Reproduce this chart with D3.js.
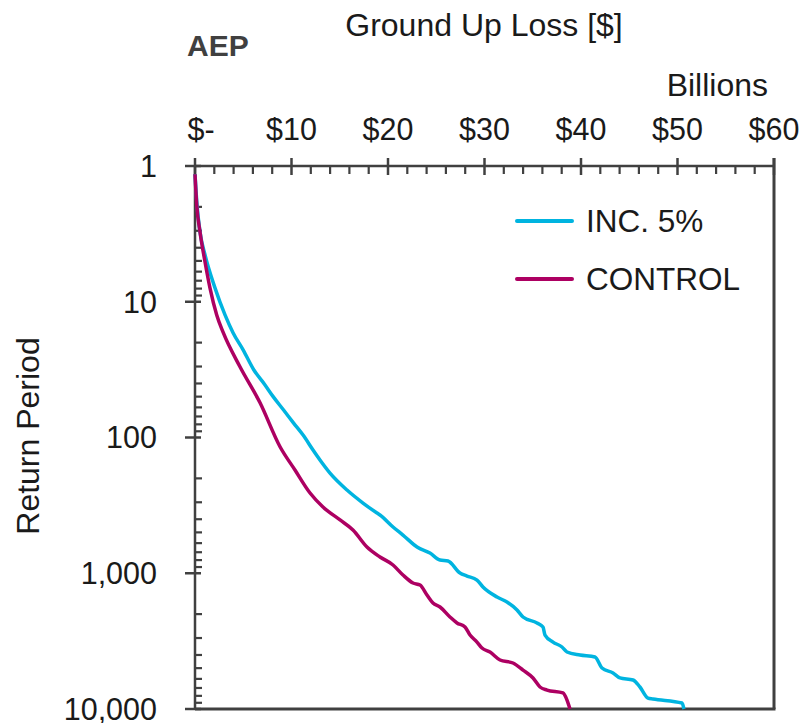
<!DOCTYPE html>
<html><head><meta charset="utf-8">
<script src="https://cdn.jsdelivr.net/npm/d3@7"></script>
<style>
html,body{margin:0;padding:0;background:#fff;}
svg text{font-family:"Liberation Sans",Arial,sans-serif;}
</style></head>
<body>
<svg id="chart" width="804" height="723"></svg>
<script>
// ---- data (loss in $ billions, return period in years) ----
const seriesNames = ["INC. 5%", "CONTROL"];
const seriesColors = ["#00B4E0", "#AD0062"];
const lossInc = [0, 0.21, 0.52, 1.04, 2.07, 3.11, 3.94, 5.0, 6.1, 7.2, 8.1, 9.2, 10.2, 11.2, 12.23, 12.95, 13.99, 15.75, 17.41, 18.86, 19.17, 20.52, 21.55, 23.01, 24.35, 25.39, 26.22, 27.46, 28.19, 29.22, 29.84, 31.30, 32.33, 33.37, 33.99, 35.44, 36.06, 36.27, 37.10, 38.03, 38.55, 39.90, 41.45, 42.18, 43.32, 44.04, 45.39, 46.11, 46.94, 47.46, 50.47, 50.67];
const rpInc   = [1.15, 1.94, 3.06, 4.52, 7.9, 12.5, 16.9, 22.7, 31.8, 40.5, 50, 63, 78, 96, 123.7, 146.5, 183, 243.8, 304, 359.8, 372, 456, 523, 641, 710, 798, 812, 996, 1048, 1122, 1263, 1496, 1629, 1866, 2100, 2323, 2489, 2851, 3212, 3494, 3804, 4000, 4140, 4990, 5430, 5905, 6110, 6885, 8300, 8435, 9040, 10000];
const lossCtrl = [0, 0.18, 0.52, 1.04, 1.55, 2.25, 2.93, 4.66, 6.74, 8.81, 10.36, 11.92, 13.26, 15.03, 16.37, 17.82, 19.17, 20.52, 21.55, 22.59, 23.32, 24.04, 24.66, 25.39, 26.42, 27.15, 27.98, 28.50, 29.22, 29.74, 30.57, 31.61, 32.95, 33.99, 35.03, 35.75, 36.48, 38.13, 38.55, 38.86];
const rpCtrl   = [1.15, 1.94, 3.06, 5.09, 7.9, 12.5, 16.9, 30.1, 55.5, 117, 173.5, 256.5, 325, 405, 480, 641, 759, 869, 1030, 1180, 1222, 1446, 1656, 1773, 2100, 2323, 2489, 2851, 3212, 3556, 3804, 4355, 4584, 5164, 5912, 6885, 7250, 7620, 8590, 10000];
const xTicks = [0, 10, 20, 30, 40, 50, 60];
const xTickLabels = ["$-", "$10", "$20", "$30", "$40", "$50", "$60"];
const yTicks = [1, 10, 100, 1000, 10000];
const yTickLabels = ["1", "10", "100", "1,000", "10,000"];

const svg = d3.select("#chart");
const x = d3.scaleLinear().domain([0, 60]).range([195, 774]);
const y = d3.scaleLog().domain([1, 10000]).range([166, 709]);
const axisColor = "#404040";
const textColor = "#1a1a1a";

// minor ticks
const xMinor = d3.range(0, 60, 2).filter(v => v % 10 !== 0);
svg.append("g").selectAll("line").data(xMinor).join("line")
  .attr("x1", d => x(d)).attr("x2", d => x(d))
  .attr("y1", y(1)).attr("y2", y(1) + 8)
  .attr("stroke", axisColor).attr("stroke-width", 2.2);
const yMinor = [];
for (let dec = 1; dec < 10000; dec *= 10) for (let m = 2; m <= 9; m++) yMinor.push(dec * m);
svg.append("g").selectAll("line").data(yMinor).join("line")
  .attr("x1", x(0)).attr("x2", x(0) + 7)
  .attr("y1", d => y(d)).attr("y2", d => y(d))
  .attr("stroke", axisColor).attr("stroke-width", 2.2);

// major ticks
svg.append("g").selectAll("line").data(xTicks).join("line")
  .attr("x1", d => x(d)).attr("x2", d => x(d))
  .attr("y1", y(1) - 8).attr("y2", y(1) + 9)
  .attr("stroke", axisColor).attr("stroke-width", 2.5);
svg.append("g").selectAll("line").data(yTicks).join("line")
  .attr("x1", x(0) - 10).attr("x2", x(0) + 6)
  .attr("y1", d => y(d)).attr("y2", d => y(d))
  .attr("stroke", axisColor).attr("stroke-width", 2.5);

// frame
svg.append("line").attr("x1", x(0)).attr("x2", x(60)).attr("y1", y(1)).attr("y2", y(1)).attr("stroke", axisColor).attr("stroke-width", 2.5);
svg.append("line").attr("x1", x(0)).attr("x2", x(0)).attr("y1", y(1)).attr("y2", y(10000)).attr("stroke", axisColor).attr("stroke-width", 2.5);
svg.append("line").attr("x1", x(60)).attr("x2", x(60)).attr("y1", y(1) - 8).attr("y2", y(10000)).attr("stroke", axisColor).attr("stroke-width", 3);
svg.append("line").attr("x1", x(0)).attr("x2", x(60) + 1.5).attr("y1", y(10000)).attr("y2", y(10000)).attr("stroke", axisColor).attr("stroke-width", 3);

// tick labels
svg.append("g").selectAll("text").data(xTicks).join("text")
  .attr("x", (d, i) => x(d) + (i === 0 ? 6 : 0)).attr("y", 140)
  .attr("text-anchor", "middle").attr("font-size", 30.5).attr("fill", textColor)
  .text((d, i) => xTickLabels[i]);
svg.append("g").selectAll("text").data(yTicks).join("text")
  .attr("x", 157).attr("y", d => y(d)).attr("dy", "0.36em")
  .attr("text-anchor", "end").attr("font-size", 30.5).attr("fill", textColor)
  .text((d, i) => yTickLabels[i]);

// titles
svg.append("text").attr("x", 484).attr("y", 36).attr("text-anchor", "middle")
  .attr("font-size", 32).attr("fill", textColor).text("Ground Up Loss [$]");
svg.append("text").attr("x", 187).attr("y", 56)
  .attr("font-size", 30).attr("font-weight", "bold").attr("fill", "#404040").text("AEP");
svg.append("text").attr("x", 768).attr("y", 96).attr("text-anchor", "end")
  .attr("font-size", 32).attr("fill", textColor).text("Billions");
svg.append("text").attr("transform", "translate(39,436) rotate(-90)").attr("text-anchor", "middle")
  .attr("font-size", 32).attr("fill", textColor).text("Return Period");

// curves
const line = d3.line().x(d => x(d[0])).y(d => y(d[1])).curve(d3.curveMonotoneX);
const series = [
  d3.zip(lossInc, rpInc),
  d3.zip(lossCtrl, rpCtrl)
];
svg.append("g").selectAll("path").data(series).join("path")
  .attr("d", line).attr("fill", "none")
  .attr("stroke", (d, i) => seriesColors[i]).attr("stroke-width", 3.5)
  .attr("stroke-linejoin", "round");

// legend
const lg = svg.append("g").selectAll("g").data(seriesNames).join("g")
  .attr("transform", (d, i) => `translate(0,${221 + i * 58})`);
lg.append("line").attr("x1", 517).attr("x2", 572).attr("y1", 0).attr("y2", 0)
  .attr("stroke", (d, i) => seriesColors[i]).attr("stroke-width", 4).attr("stroke-linecap", "round");
lg.append("text").attr("x", 586).attr("y", 0).attr("dy", "0.36em")
  .attr("font-size", 31.5).attr("fill", textColor).text(d => d);
</script>
</body></html>
